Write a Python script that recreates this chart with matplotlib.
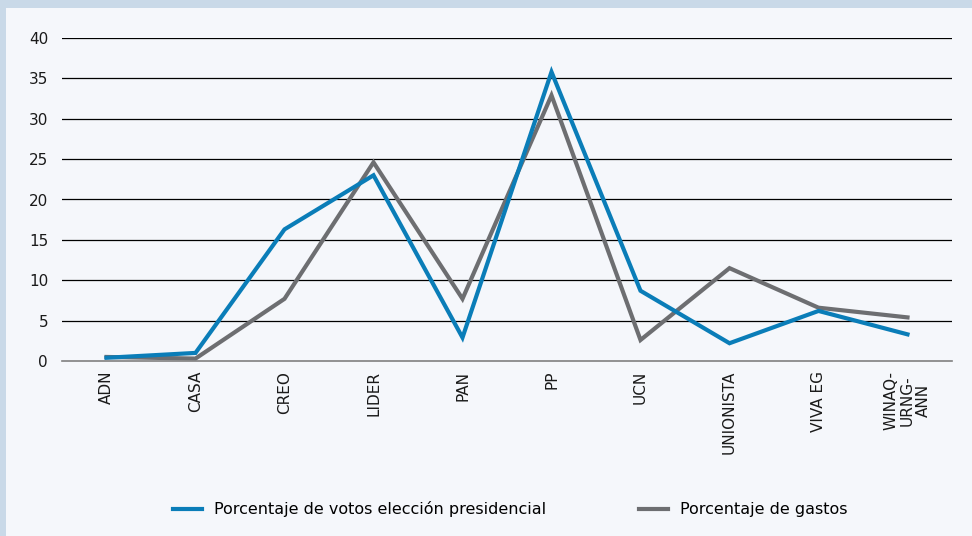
import matplotlib
matplotlib.use("Agg")
import matplotlib.pyplot as plt
from matplotlib.patches import Rectangle

# party names and the two series (percent)
parties = ["ADN", "CASA", "CREO", "LIDER", "PAN", "PP", "UCN",
           "UNIONISTA", "VIVA EG", "WINAQ-\nURNG-\nANN"]
votos = [0.4, 1.0, 16.3, 23.0, 2.9, 35.8, 8.7, 2.2, 6.2, 3.3]
gastos = [0.5, 0.3, 7.7, 24.6, 7.7, 32.9, 2.6, 11.5, 6.6, 5.4]
y_ticks = [0, 5, 10, 15, 20, 25, 30, 35, 40]

BLUE = "#0a7db8"
GRAY = "#6d6e71"

plt.rcParams["font.family"] = ["DejaVu Sans"]

fig = plt.figure(figsize=(9.72, 5.36), dpi=100, facecolor="#c9d9e8")
# inner light panel
fig.patches.append(Rectangle((6 / 972, 0), 1 - 6 / 972, 1 - 8 / 536,
                             transform=fig.transFigure, facecolor="#f5f7fb",
                             edgecolor="none", zorder=-5))

ax = fig.add_axes([62 / 972, 1 - 361 / 536, 890 / 972, 323 / 536])
ax.set_facecolor("none")

x = range(len(parties))
ax.plot(x, votos, color=BLUE, linewidth=3, solid_joinstyle="miter",
        label="Porcentaje de votos elección presidencial", zorder=3)
ax.plot(x, gastos, color=GRAY, linewidth=3, solid_joinstyle="miter",
        label="Porcentaje de gastos", zorder=2)

ax.set_xlim(-0.5, len(parties) - 0.5)
ax.set_ylim(0, 40)
ax.set_yticks(y_ticks)
ax.set_yticklabels([str(v) for v in y_ticks], fontsize=11)
ax.set_xticks(list(x))
ax.set_xticklabels(parties, rotation=90, fontsize=11, va="top", ha="center",
                   linespacing=1.1)
ax.tick_params(axis="both", length=0, colors="#1a1a1a")
ax.tick_params(axis="y", pad=10)
ax.tick_params(axis="x", pad=7)

for v in y_ticks[1:]:
    ax.axhline(v, color="black", linewidth=0.9, zorder=1)
for s in ["top", "right", "left"]:
    ax.spines[s].set_visible(False)
ax.spines["bottom"].set_color("#808080")
ax.spines["bottom"].set_linewidth(1.2)

fig.legend(loc="center", bbox_to_anchor=(0.525, 0.05), ncol=2, frameon=False,
           fontsize=11.5, handlelength=1.8, handletextpad=0.75, columnspacing=5.8)

fig.savefig("out.png", dpi=100, facecolor=fig.get_facecolor())
